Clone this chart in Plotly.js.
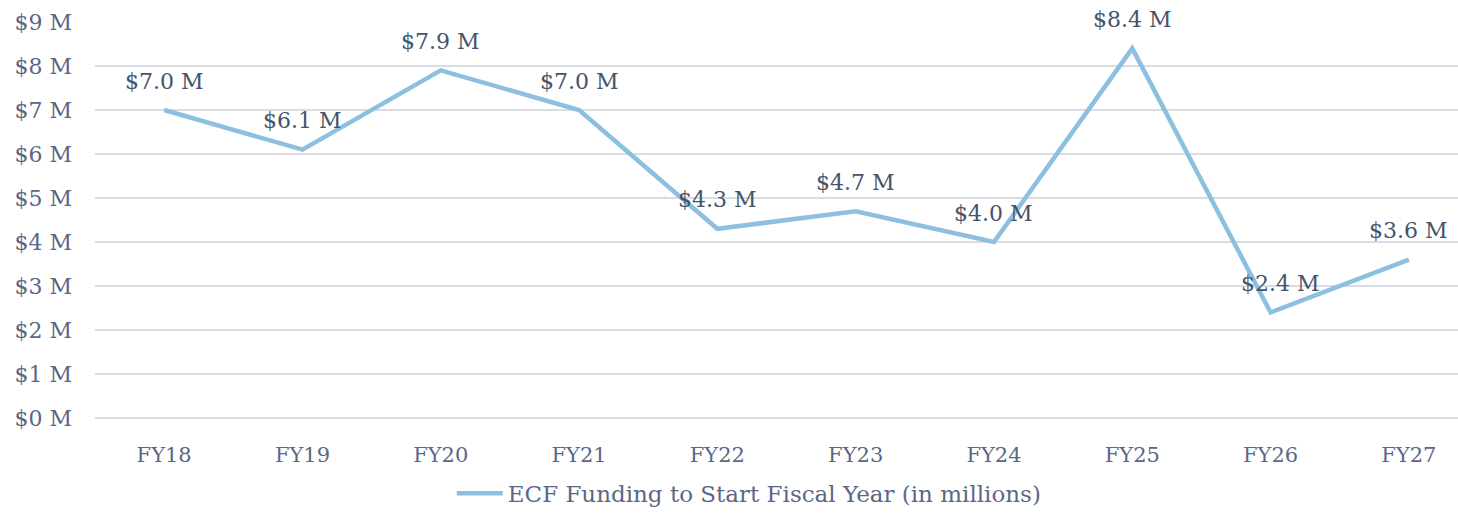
<!DOCTYPE html>
<html>
<head>
<meta charset="utf-8">
<script src="https://cdn.plot.ly/plotly-3.0.1.min.js"></script>
<style>html,body{margin:0;padding:0;background:#fff;}#chart{width:1458px;height:517px;}</style>
</head>
<body>
<div id="chart"></div>
<script>
const categories = ["FY18","FY19","FY20","FY21","FY22","FY23","FY24","FY25","FY26","FY27"];
const funding = [7.0, 6.1, 7.9, 7.0, 4.3, 4.7, 4.0, 8.4, 2.4, 3.6];
const seriesName = "ECF Funding to Start Fiscal Year (in millions)";
const yTickVals = [0,1,2,3,4,5,6,7,8,9];
const yTickText = yTickVals.map(v => "$" + v + " M");

const FONT = "DejaVu Serif, Georgia, serif";
const trace = {
  x: categories,
  y: funding,
  type: "scatter",
  mode: "lines",
  name: seriesName,
  line: {color: "#8dc0e0", width: 4.5},
  hoverinfo: "skip"
};

const annotations = categories.map((c, i) => ({
  x: c, y: funding[i], xref: "x", yref: "y",
  text: "$" + funding[i].toFixed(1) + " M",
  showarrow: false, yshift: 29,
  xshift: (i === 8 ? 10 : 0),
  font: {family: FONT, size: 22, color: "#44546a"}
}));

const layout = {
  width: 1458, height: 517,
  margin: {l: 95, r: 0, t: 22, b: 99},
  paper_bgcolor: "#fff", plot_bgcolor: "#fff",
  font: {family: FONT, size: 21, color: "#5a6785"},
  showlegend: true,
  legend: {orientation: "h", x: 0.48, xanchor: "center", y: -0.19, yanchor: "middle",
           itemwidth: 46,
           font: {family: FONT, size: 23, color: "#5a6785"}},
  xaxis: {type: "category", range: [-0.5, 9.355], showgrid: false, zeroline: false,
          showline: false, ticks: "", ticklabelstandoff: 22,
          tickfont: {family: FONT, size: 21, color: "#5a6785"}},
  yaxis: {range: [0, 9], tickvals: yTickVals, ticktext: yTickText,
          showgrid: true, gridcolor: "#d9dde3", gridwidth: 1.5,
          zeroline: true, zerolinecolor: "#d9dde3", zerolinewidth: 1.5,
          showline: false, ticks: "", ticklabelstandoff: 22,
          tickfont: {family: FONT, size: 22, color: "#5a6785"}},
  annotations: annotations
};

Plotly.newPlot("chart", [trace], layout, {displayModeBar: false, staticPlot: true});
</script>
</body>
</html>
